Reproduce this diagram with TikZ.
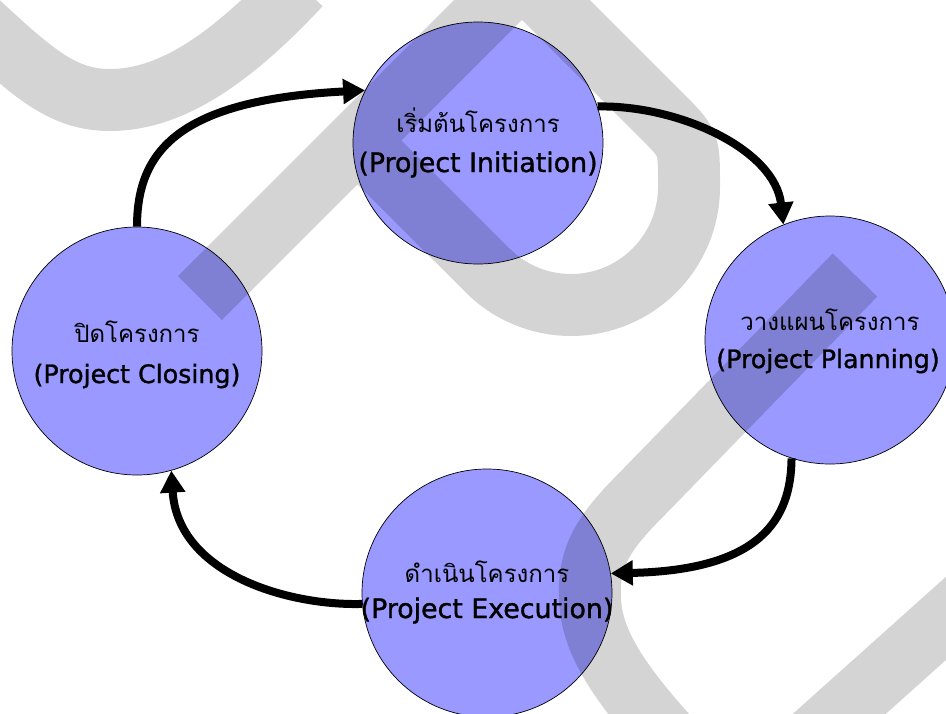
\documentclass[tikz,border=0pt]{standalone}
\usepackage{fontspec}
\setmainfont{DejaVu Sans}
\newfontfamily\engfont[FakeBold=1.2]{DejaVu Sans}
\newfontfamily\thaifont[Script=Thai]{Loma}
\usetikzlibrary{arrows.meta,shapes.geometric}
\definecolor{phasefill}{HTML}{9999FF}
\begin{document}
\begin{tikzpicture}[x=1pt,y=-1pt,
  phase/.style={ellipse, draw=black, line width=0.7pt, fill=phasefill,
    inner sep=0pt, minimum width=250pt, minimum height=248pt},
  thailine/.style={anchor=base, inner sep=0pt,
    font=\thaifont\fontsize{24}{28}\selectfont},
  engline/.style={anchor=base, inner sep=0pt,
    font=\engfont\fontsize{26.8}{30}\selectfont},
  engnarrow/.style={engline, font=\engfont\fontsize{25.3}{30}\selectfont},
  flow/.style={line width=8pt, -{Triangle[length=22pt,width=24pt]}},
  band/.style={line width=62pt, draw=black, draw opacity=0.17,
    line cap=butt, line join=miter}
]
\useasboundingbox (0,0) rectangle (946,713);
\fill[white] (0,0) rectangle (946,713);
\clip (0,0) rectangle (946,713);

% the four project phases
\node[phase, minimum height=242pt] (init) at (478,143) {};
\node[phase] (plan)  at (830,340) {};
\node[phase] (close) at (137,351) {};
\node[phase] (exec)  at (487,593) {};

% phase names
\node[thailine]  (init-th)  at ([yshift=11pt]init.center)   {เริ่มต้นโครงการ};
\node[engline]   (init-en)  at ([yshift=-29pt]init.center)  {(Project Initiation)};
\node[thailine]  (plan-th)  at ([yshift=10pt]plan.center)   {วางแผนโครงการ};
\node[engnarrow] (plan-en)  at ([xshift=-2pt,yshift=-28pt]plan.center) {(Project Planning)};
\node[thailine]  (close-th) at ([yshift=9pt]close.center)   {ปิดโครงการ};
\node[engnarrow] (close-en) at ([yshift=-32pt]close.center) {(Project Closing)};
\node[thailine]  (exec-th)  at ([yshift=11pt]exec.center)   {ดำเนินโครงการ};
\node[engline]   (exec-en)  at ([yshift=-25pt]exec.center)  {(Project Execution)};

% cycle arrows
\draw[flow] (close.north) .. controls (137,150) and (180,100) .. (init.155);
\draw[flow] (init.17) .. controls (680,105) and (775,150) .. (plan.112);
\draw[flow] (plan.252) .. controls (791,520) and (760,570) .. (exec.9);
\draw[flow] (exec.185) .. controls (290,606) and (178,575) .. (close.286);

% translucent ribbons laid over the drawing
\draw[band] (-30,15) .. controls (30,70) and (60,100) .. (110,100)
  .. controls (170,100) and (230,60) .. (300,-15);
\draw[band] (200,298) -- (522,-24) -- (660.7,114.7)
  .. controls (689,143) .. (689,183) -- (689,187)
  arc[start angle=0, end angle=135, radius=118] -- (360,143);
\draw[band] (855,275) -- (640,496) .. controls (600,536) and (588,560) .. (590,600)
  .. controls (592,640) and (615,680) .. (680,750);
\draw[band] (790,758) -- (1000,570);
\end{tikzpicture}
\end{document}
